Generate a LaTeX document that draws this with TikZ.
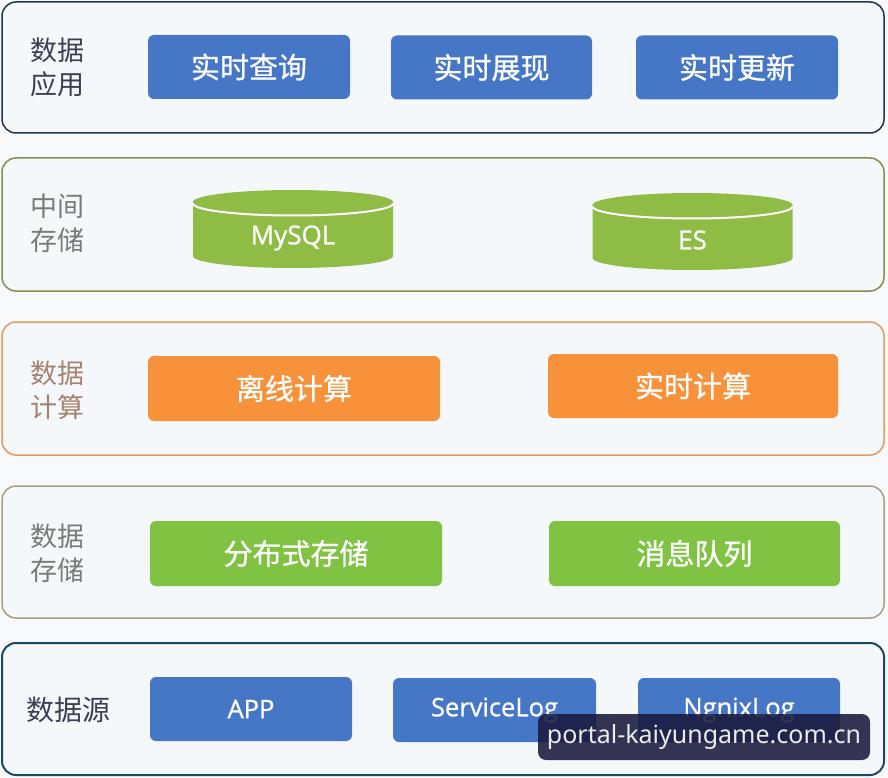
\documentclass[tikz,border=0pt]{standalone}
\usepackage{fontspec}
\setmainfont{Open Sans}
\newfontfamily\cjk{Noto Sans CJK SC}
\newfontfamily\cjkb[FakeBold=0.8]{Noto Sans CJK SC}
\newfontfamily\latsemi[FakeBold=0.9]{Open Sans}
\newfontfamily\wmfont{Noto Sans}
\definecolor{pagebg}{HTML}{F7F9FA}
\definecolor{laybg}{HTML}{F5F8FA}
\definecolor{navy}{HTML}{1E3550}
\definecolor{teal}{HTML}{1C4868}
\definecolor{olive}{HTML}{7F9050}
\definecolor{orangeb}{HTML}{E59A5A}
\definecolor{khaki}{HTML}{A8A080}
\definecolor{btnblue}{HTML}{4677C6}
\definecolor{cylgreen}{HTML}{8FBC45}
\definecolor{btnorange}{HTML}{F7923A}
\definecolor{btngreen}{HTML}{80C342}
\definecolor{labdark}{HTML}{3A3F55}
\definecolor{labgray}{HTML}{7A7A7A}
\definecolor{laborange}{HTML}{A88070}
\begin{document}
\begin{tikzpicture}[x=1pt,y=-1pt,
  layer/.style={draw, rounded corners=14pt, line width=1.5pt, fill=laybg, minimum width=882pt, inner sep=0pt},
  btn/.style={rounded corners=6pt, minimum height=64pt, inner sep=0pt, text=white},
  cjkbtn/.style={btn, font=\cjkb\fontsize{29}{29}\selectfont},
  latbtn/.style={btn, font=\latsemi\fontsize{25.5}{25.5}\selectfont},
  lab/.style={font=\cjk\fontsize{27}{34}\selectfont, align=center},
  cyltext/.style={text=white, font=\latsemi\fontsize{26}{26}\selectfont}
]
\useasboundingbox (0,0) rectangle (888,778);
\fill[pagebg] (0,0) rectangle (888,778);

% layers
\node[layer, draw=navy, minimum height=131pt] (L1) at (443,67.5) {};
\node[layer, draw=olive, minimum height=133pt] (L2) at (443,224.5) {};
\node[layer, draw=orangeb, minimum height=133pt] (L3) at (443,388.5) {};
\node[layer, draw=khaki, minimum height=132pt] (L4) at (443,552) {};
\node[layer, draw=teal, line width=2pt, minimum height=132pt] (L5) at (443,709) {};

% labels
\node[lab, text=labdark] (t1) at (57,67) {数据\\应用};
\node[lab, text=labgray] (t2) at (57,223) {中间\\存储};
\node[lab, text=laborange] (t3) at (57,390) {数据\\计算};
\node[lab, text=labgray] (t4) at (57,553) {数据\\存储};
\node[lab, text=labdark, font=\cjk\fontsize{28}{34}\selectfont] (t5) at (68,710) {数据源};

% layer 1
\node[cjkbtn, fill=btnblue, minimum width=202pt] (q1) at (249,67) {实时查询};
\node[cjkbtn, fill=btnblue, minimum width=201pt] (q2) at (491.5,67.5) {实时展现};
\node[cjkbtn, fill=btnblue, minimum width=202pt] (q3) at (737,67.5) {实时更新};

% layer 2 cylinders
\fill[cylgreen] (193,202) -- (193,256) arc[start angle=180,end angle=0,x radius=100,y radius=12] -- (393,202) -- cycle;
\fill[cylgreen] (293,202) ellipse[x radius=100,y radius=12];
\draw[white, line width=2pt] (193,203.5) arc[start angle=180,end angle=0,x radius=100,y radius=12];
\node[cyltext] (mysql) at (293,238) {MySQL};

\fill[cylgreen] (592.5,205) -- (592.5,258) arc[start angle=180,end angle=0,x radius=100,y radius=12] -- (792.5,205) -- cycle;
\fill[cylgreen] (692.5,205) ellipse[x radius=100,y radius=12];
\draw[white, line width=2pt] (592.5,206.5) arc[start angle=180,end angle=0,x radius=100,y radius=12];
\node[cyltext] (es) at (692.5,240) {ES};

% layer 3
\node[cjkbtn, fill=btnorange, minimum width=292pt, minimum height=65pt] (c1) at (294,388.5) {离线计算};
\node[cjkbtn, fill=btnorange, minimum width=290pt] (c2) at (693,386) {实时计算};

% layer 4
\node[cjkbtn, fill=btngreen, minimum width=292pt, minimum height=65pt] (s1) at (296,553.5) {分布式存储};
\node[cjkbtn, fill=btngreen, minimum width=291pt, minimum height=65pt] (s2) at (694.5,553.5) {消息队列};

% layer 5
\node[latbtn, fill=btnblue, minimum width=202pt] (a1) at (251,709) {APP};
\node[latbtn, fill=btnblue, minimum width=203pt] (a2) at (494.5,710) {ServiceLog};
\node[latbtn, fill=btnblue, minimum width=202pt] (a3) at (739,710) {NgnixLog};

% watermark
\node[fill=black!85!blue!90, fill opacity=0.88, text opacity=1, rounded corners=8pt,
      minimum width=332pt, minimum height=46pt, inner sep=0pt,
      text=white!92!black, font=\wmfont\fontsize{25}{25}\selectfont] (wm) at (704,737) {portal-kaiyungame.com.cn};
\end{tikzpicture}
\end{document}
